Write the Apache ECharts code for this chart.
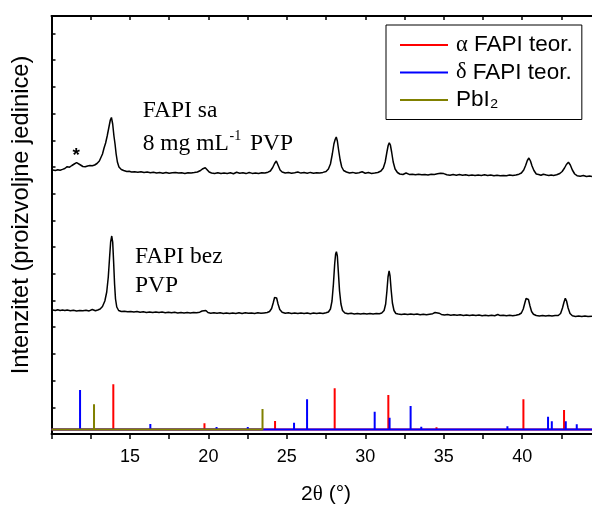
<!DOCTYPE html>
<html>
<head>
<meta charset="utf-8">
<script src="https://cdn.jsdelivr.net/npm/echarts@6/dist/echarts.min.js"></script>
<style>html,body{margin:0;padding:0;background:#fff}#c{width:592px;height:505px}</style>
</head>
<body>
<div id="c"></div>
<script>
// ---- data (2θ in degrees, intensity in arbitrary units) ----
const xTickLabels = [15, 20, 25, 30, 35, 40];

const fapiSa = [
[10.08,264],[10.25,263.6],[10.4,264.2],[10.55,263.8],[10.7,264.6],[10.85,265.5],[11.0,267.3],[11.15,266.8],[11.3,268.5],[11.45,270],[11.6,271.3],[11.72,271],[11.85,269],[12.0,267.5],[12.15,267.2],[12.3,268],[12.45,268.4],[12.6,268.2],[12.75,269],[12.9,270.5],[13.05,273],[13.15,275],[13.25,280],[13.35,286],[13.45,291],[13.55,298],[13.65,306],[13.75,314],[13.82,316.5],[13.9,310],[13.98,298],[14.05,290],[14.12,280],[14.2,272],[14.3,267],[14.45,264.5],[14.6,263.5],[14.8,262.5],[14.95,262.8],[15.1,262],[15.2,264],[15.3,262.2],[15.5,261.8],[15.7,262.3],[15.9,261.5],[16.1,261.9],[16.3,261.2],[16.5,261.8],[16.7,261],[16.9,261.4],[17.1,260.8],[17.3,261.5],[17.5,260.7],[17.7,261.2],[17.9,261.6],[18.1,260.9],[18.3,261.3],[18.5,260.6],[18.7,261.3],[18.9,261],[19.1,261.4],[19.3,262],[19.5,263.5],[19.65,265.3],[19.8,266.3],[19.92,264.3],[20.05,262],[20.2,261],[20.4,260.5],[20.6,261.2],[20.8,260.4],[21.0,261],[21.2,260.6],[21.4,261.2],[21.6,260.3],[21.8,261.8],[22.0,260.7],[22.2,261.2],[22.4,260.4],[22.6,261.5],[22.8,260.6],[23.0,261.1],[23.2,260.5],[23.4,261.3],[23.6,261],[23.8,261.8],[23.95,263],[24.1,266.5],[24.22,270.5],[24.33,273],[24.45,268.5],[24.57,264],[24.7,262],[24.9,261],[25.1,261.5],[25.3,260.8],[25.5,261.3],[25.7,262],[25.9,260.9],[26.1,261.4],[26.3,260.7],[26.5,261.6],[26.7,260.8],[26.9,261.3],[27.1,261],[27.3,261.6],[27.5,262.5],[27.65,265],[27.78,270],[27.9,280],[28.0,290],[28.08,294.5],[28.15,297],[28.22,293],[28.3,284],[28.4,274],[28.5,267],[28.62,263.5],[28.8,262],[29.0,261],[29.2,261.6],[29.4,260.7],[29.6,261.3],[29.8,262.2],[30.0,260.8],[30.2,261.4],[30.4,260.6],[30.6,261],[30.8,261.5],[31.0,263],[31.15,266],[31.27,272],[31.38,282],[31.46,288.5],[31.53,291.3],[31.6,289],[31.68,282],[31.78,272],[31.9,265],[32.05,261.5],[32.2,260],[32.4,259.5],[32.6,261],[32.8,259.6],[33.0,259.8],[33.2,259.2],[33.4,259.8],[33.6,259.3],[33.8,259.6],[34.0,259.1],[34.2,259.7],[34.4,259.5],[34.6,260.2],[34.8,260.8],[35.0,260.4],[35.2,259.3],[35.4,258.8],[35.6,259.4],[35.8,258.7],[36.0,259.5],[36.2,258.8],[36.4,259.3],[36.6,258.5],[36.8,259.1],[37.0,258.4],[37.2,259],[37.4,258.6],[37.6,259.2],[37.8,258.4],[38.0,258.9],[38.2,258.2],[38.4,258.8],[38.6,258.3],[38.8,258.6],[39.0,258.2],[39.2,258.9],[39.4,258.5],[39.6,259],[39.8,259.8],[39.95,261],[40.1,264],[40.22,268.5],[40.33,273.5],[40.43,276],[40.53,273],[40.63,268],[40.75,263.5],[40.9,260],[41.05,259.5],[41.2,258.7],[41.35,259.8],[41.47,261.5],[41.55,259],[41.7,258.5],[41.85,259],[42.0,258.6],[42.2,259.2],[42.4,260.5],[42.55,262.5],[42.7,266],[42.82,269.5],[42.95,271.7],[43.07,269],[43.2,264],[43.35,260],[43.5,258.3],[43.7,257.8],[43.9,258.5],[44.1,257.5],[44.3,258],[44.45,257.6]
];

const fapiBez = [
[10.08,124],[10.25,123.5],[10.4,124.2],[10.55,123.6],[10.7,124],[10.85,123.4],[11.0,123.9],[11.2,123.2],[11.4,123.8],[11.6,123.1],[11.8,123.6],[12.0,123.2],[12.2,123.7],[12.4,123.1],[12.6,124.5],[12.8,123.3],[12.95,124],[13.1,125],[13.25,127.5],[13.4,133],[13.52,142],[13.62,157],[13.7,176],[13.77,192],[13.84,198],[13.9,192],[13.96,172],[14.02,150],[14.08,135],[14.16,127],[14.28,123.5],[14.45,122.5],[14.65,122.8],[14.85,122.2],[15.05,122.6],[15.25,121.9],[15.45,122.4],[15.65,121.8],[15.85,122.3],[16.05,121.6],[16.25,122.1],[16.45,121.5],[16.65,122],[16.85,121.4],[17.05,121.9],[17.25,121.3],[17.45,121.8],[17.65,121.2],[17.85,121.7],[18.05,121.1],[18.25,121.6],[18.45,121],[18.65,121.5],[18.85,121.1],[19.05,121.6],[19.25,121.2],[19.45,121.8],[19.6,123],[19.72,124.5],[19.84,123.5],[19.97,121.5],[20.15,120.8],[20.35,121.3],[20.55,120.7],[20.75,121.2],[20.95,120.6],[21.15,121.1],[21.35,120.5],[21.55,121],[21.75,120.6],[21.95,121.2],[22.15,120.5],[22.35,121.3],[22.55,120.7],[22.75,121.1],[22.95,120.6],[23.15,121.2],[23.35,120.7],[23.55,121.1],[23.75,121.5],[23.9,122.5],[24.03,125.5],[24.13,131],[24.22,136.5],[24.28,138.3],[24.35,136],[24.44,130],[24.55,124.5],[24.7,121.8],[24.9,120.8],[25.1,121.2],[25.3,120.6],[25.5,121],[25.7,120.4],[25.9,121],[26.1,120.5],[26.3,121],[26.5,120.3],[26.7,120.9],[26.9,120.4],[27.1,121],[27.3,120.5],[27.5,121.2],[27.65,122],[27.78,125],[27.88,133],[27.97,150],[28.05,170],[28.11,180],[28.16,182.3],[28.22,178],[28.28,163],[28.36,143],[28.45,130],[28.55,123.5],[28.7,121],[28.9,120.2],[29.1,120.7],[29.3,120.1],[29.5,120.6],[29.7,120],[29.9,120.5],[30.1,120],[30.3,120.6],[30.5,120.1],[30.7,120.5],[30.9,120.3],[31.05,121],[31.2,123.5],[31.3,130],[31.38,143],[31.45,157],[31.52,163],[31.58,158],[31.65,144],[31.73,131],[31.83,123.5],[31.95,120.5],[32.1,120],[32.3,119.6],[32.5,120.1],[32.7,119.5],[32.9,120],[33.1,119.4],[33.3,119.9],[33.5,119.3],[33.7,119.8],[33.9,119.3],[34.1,119.8],[34.3,120.3],[34.45,121.5],[34.57,122],[34.7,120.8],[34.85,119.6],[35.05,119],[35.25,119.5],[35.45,118.8],[35.65,119.3],[35.85,118.7],[36.05,119.2],[36.25,118.6],[36.45,119.1],[36.65,118.5],[36.85,119],[37.05,118.4],[37.25,118.9],[37.45,118.3],[37.65,118.8],[37.85,118.2],[38.05,118.7],[38.25,118.2],[38.45,119.5],[38.6,118.4],[38.8,118.8],[39.0,118.2],[39.2,118.7],[39.4,118.3],[39.6,118.8],[39.8,119.5],[39.95,121],[40.07,125],[40.17,131],[40.25,135.5],[40.32,137.3],[40.4,134.5],[40.5,128],[40.6,122.5],[40.72,119.8],[40.9,118.5],[41.1,118.1],[41.3,118.6],[41.5,118],[41.7,118.5],[41.9,117.9],[42.1,118.4],[42.3,118.5],[42.45,120.5],[42.57,126],[42.67,132],[42.75,135.7],[42.83,133],[42.93,126],[43.05,120.5],[43.2,118.2],[43.4,117.6],[43.6,118.1],[43.8,117.5],[44.0,118],[44.2,117.4],[44.45,117.8]
];

// reference stick patterns: positions and peak intensities
const alphaPos = [13.94, 19.75, 24.25, 28.05, 31.47, 34.54, 40.08, 42.67];
const alphaInt = [49.7, 10.7, 13, 45.7, 39, 6.7, 34.7, 24];
const deltaPos = [11.82, 16.30, 20.52, 22.51, 25.46, 26.29, 30.60, 31.55, 32.89, 33.57, 36.11, 39.06, 41.65, 41.89, 42.78, 43.48];
const deltaInt = [44, 10, 7, 7, 11.3, 34.7, 22.3, 16.3, 28, 7.3, 6.3, 7.7, 17.3, 12.7, 12.7, 9.7];
const pbiPos = [12.71, 23.45];
const pbiInt = [29.7, 25];
const stickBase = 4.5;

// ---- build stick-line data ----
function sticks(pos, inten, start, end) {
  const d = [[start, stickBase]];
  pos.forEach((p, i) => { d.push([p, stickBase], [p, inten[i]], [p, stickBase]); });
  d.push([end, stickBase]);
  return d;
}

const chart = echarts.init(document.getElementById('c'), null, {renderer: 'canvas'});
const SANS = '"Liberation Sans", Arial, sans-serif';
const SERIF = '"Liberation Serif", "Times New Roman", serif';

const option = {
  animation: false,
  backgroundColor: '#fff',
  grid: {left: 51.5, width: 549.1, top: 16, height: 418, containLabel: false, outerBoundsMode: 'none'},
  xAxis: [{
    type: 'value', position: 'bottom', min: 10, max: 45, interval: 5,
    axisLine: {lineStyle: {color: '#000', width: 2}},
    axisTick: {inside: false, length: 5, lineStyle: {color: '#000', width: 1.5}},
    minorTick: {show: true, splitNumber: 2, length: 5, lineStyle: {color: '#000', width: 1.5}},
    splitLine: {show: false},
    axisLabel: {
      color: '#000', fontSize: 18, fontFamily: SANS, margin: 14,
      formatter: v => xTickLabels.indexOf(v) >= 0 ? String(v) : ''
    },
    name: '2{t|θ} (°)', nameLocation: 'middle', nameGap: 50,
    nameTextStyle: {color: '#000', fontSize: 21, fontFamily: SANS,
      rich: {t: {fontSize: 21, fontFamily: SERIF, color: '#000'}}}
  }, {
    type: 'value', position: 'top', min: 10, max: 45, interval: 2.5,
    axisLine: {lineStyle: {color: '#000', width: 2}},
    axisTick: {inside: true, length: 4, lineStyle: {color: '#000', width: 1.5}},
    axisLabel: {show: false}, splitLine: {show: false}
  }],
  yAxis: [{
    type: 'value', min: 0, max: 418, interval: 26.7,
    axisLine: {show: true, lineStyle: {color: '#000', width: 2}},
    axisTick: {show: true, inside: true, length: 4, lineStyle: {color: '#000', width: 1.5}},
    axisLabel: {show: false}, splitLine: {show: false}
  }],
  legend: {
    data: ['α FAPI teor.', 'δ FAPI teor.', 'PbI₂'],
    orient: 'vertical', left: 386, top: 25,
    padding: [8.5, 9, 8, 14], itemGap: 4.5,
    itemWidth: 48, itemHeight: 2, icon: 'rect',
    borderColor: '#000', borderWidth: 1, borderRadius: 0,
    formatter: name => {
      if (name === 'PbI₂') return '{m|PbI₂}';
      return '{g|' + name.charAt(0) + '}{n|' + name.slice(1) + '}';
    },
    textStyle: {
      color: '#000', fontSize: 22.5, fontFamily: SANS,
      rich: {
        g: {fontSize: 22.5, fontFamily: SERIF, color: '#000', padding: [0, 0, 0, 3]},
        n: {fontSize: 22.5, fontFamily: SANS, color: '#000'},
        m: {fontSize: 22.5, fontFamily: SANS, color: '#000', padding: [0, 0, 0, 3]}
      }
    }
  },
  series: [
    {name: 'α FAPI teor.', type: 'line', symbol: 'none', color: '#ff0000',
     lineStyle: {color: '#ff0000', width: 2}, data: sticks(alphaPos, alphaInt, 10, 45)},
    {name: 'δ FAPI teor.', type: 'line', symbol: 'none', color: '#0000ff',
     lineStyle: {color: '#0000ff', width: 2}, data: sticks(deltaPos, deltaInt, 10, 45)},
    {name: 'PbI₂', type: 'line', symbol: 'none', color: '#808000',
     lineStyle: {color: '#808000', width: 2}, data: sticks(pbiPos, pbiInt, 10, 23.45)},
    {name: 'FAPI sa 8 mg mL-1 PVP', type: 'line', symbol: 'none', color: '#000',
     lineStyle: {color: '#000', width: 1.5}, data: fapiSa},
    {name: 'FAPI bez PVP', type: 'line', symbol: 'none', color: '#000',
     lineStyle: {color: '#000', width: 1.5}, data: fapiBez}
  ],
  graphic: [
    {type: 'text', x: 21.5, y: 215, rotation: Math.PI / 2,
     style: {text: 'Intenzitet (proizvoljne jedinice)', fontSize: 23.7, fontFamily: SANS, fill: '#000', align: 'center', verticalAlign: 'middle'}},
    {type: 'text', x: 142.7, y: 110.5,
     style: {text: 'FAPI sa', fontSize: 23.5, fontFamily: SERIF, fill: '#000', align: 'left', verticalAlign: 'middle'}},
    {type: 'text', x: 142.7, y: 143.9,
     style: {text: '8 mg mL', fontSize: 23.5, fontFamily: SERIF, fill: '#000', align: 'left', verticalAlign: 'middle'}},
    {type: 'text', x: 229.5, y: 136.4,
     style: {text: '-1', fontSize: 14, fontFamily: SERIF, fill: '#000', align: 'left', verticalAlign: 'middle'}},
    {type: 'text', x: 250, y: 143.9,
     style: {text: 'PVP', fontSize: 23.5, fontFamily: SERIF, fill: '#000', align: 'left', verticalAlign: 'middle'}},
    {type: 'text', x: 135, y: 257.2,
     style: {text: 'FAPI bez', fontSize: 23.5, fontFamily: SERIF, fill: '#000', align: 'left', verticalAlign: 'middle'}},
    {type: 'text', x: 135, y: 285.5,
     style: {text: 'PVP', fontSize: 23.5, fontFamily: SERIF, fill: '#000', align: 'left', verticalAlign: 'middle'}},
    {type: 'text', x: 76.3, y: 155.9,
     style: {text: '*', fontSize: 19, fontWeight: 'bold', fontFamily: SANS, fill: '#000', align: 'center', verticalAlign: 'middle'}}
  ]
};
chart.setOption(option);
</script>
</body>
</html>
